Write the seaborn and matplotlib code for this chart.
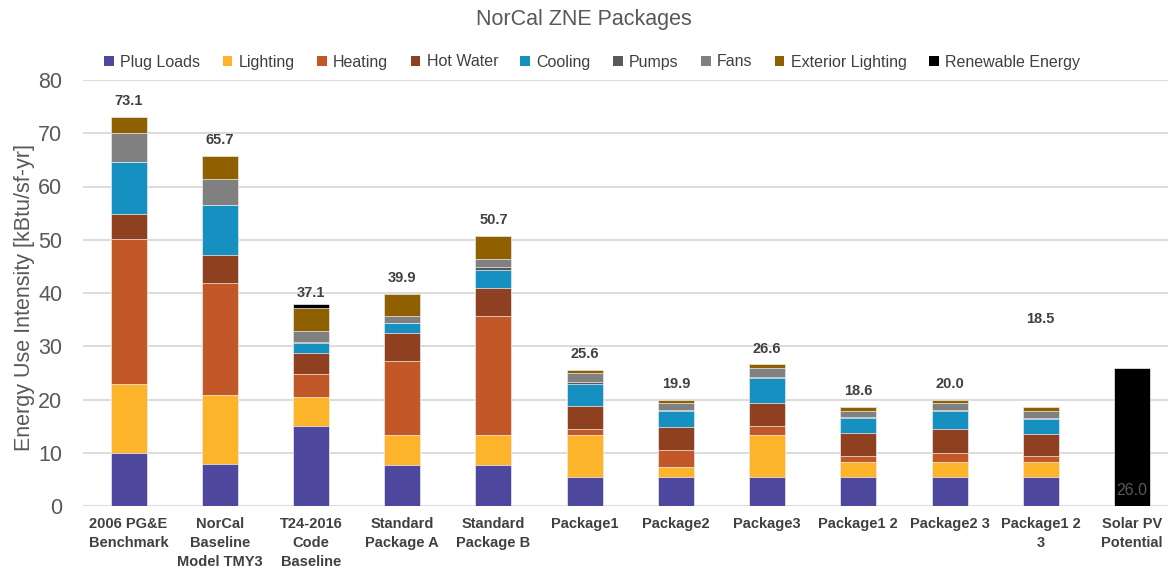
import numpy as np
import pandas as pd
import matplotlib
matplotlib.use("Agg")
import matplotlib.pyplot as plt
from matplotlib.patches import Patch
import seaborn as sns

sns.set_theme(style="white")
plt.rcParams['font.family'] = ['Liberation Sans', 'DejaVu Sans']

# ---------------- data ----------------
packages = ["2006 PG&E\nBenchmark", "NorCal\nBaseline\nModel TMY3", "T24-2016\nCode\nBaseline",
            "Standard\nPackage A", "Standard\nPackage B", "Package1", "Package2", "Package3",
            "Package1 2", "Package2 3", "Package1 2\n3", "Solar PV\nPotential"]

plug_loads   = [10.0, 7.8, 15.1, 7.7, 7.7, 5.5, 5.5, 5.5, 5.5, 5.5, 5.5, 0.0]
lighting     = [12.9, 13.1, 5.3, 5.6, 5.6, 7.8, 1.8, 7.8, 2.7, 2.7, 2.7, 0.0]
heating      = [27.2, 20.9, 4.4, 13.9, 22.4, 1.2, 3.2, 1.7, 1.2, 1.7, 1.2, 0.0]
hot_water    = [4.8, 5.4, 3.9, 5.2, 5.3, 4.3, 4.3, 4.3, 4.3, 4.5, 4.2, 0.0]
cooling      = [9.7, 9.4, 1.9, 1.9, 3.4, 4.2, 3.1, 4.7, 2.8, 3.4, 2.7, 0.0]
pumps        = [0.0, 0.0, 0.2, 0.0, 0.4, 0.2, 0.2, 0.2, 0.2, 0.2, 0.2, 0.0]
fans         = [5.5, 4.9, 2.1, 1.4, 1.6, 1.8, 1.2, 1.7, 1.2, 1.3, 1.3, 0.0]
ext_lighting = [3.0, 4.2, 4.2, 4.2, 4.3, 0.6, 0.6, 0.7, 0.7, 0.7, 0.7, 0.0]
renewable    = [0.0, 0.0, 0.9, 0.0, 0.0, 0.0, 0.0, 0.0, 0.0, 0.0, 0.0, 26.0]

series_names = ["Plug Loads", "Lighting", "Heating", "Hot Water", "Cooling",
                "Pumps", "Fans", "Exterior Lighting", "Renewable Energy"]
series_colors = ["#4E479E", "#FDB42A", "#C25828", "#8F4020", "#1690C0",
                 "#595959", "#808080", "#8F6000", "#000000"]

# extra lift of the total label above the bar (last package label floats higher)
label_lift = [2.95] * 10 + [16.6, None]

df = pd.DataFrame({"Package": packages, "Plug Loads": plug_loads, "Lighting": lighting,
                   "Heating": heating, "Hot Water": hot_water, "Cooling": cooling,
                   "Pumps": pumps, "Fans": fans, "Exterior Lighting": ext_lighting,
                   "Renewable Energy": renewable})

# ---------------- figure ----------------
fig = plt.figure(figsize=(11.68, 5.78), dpi=100)
ax = fig.add_axes([83 / 1168, 1 - 506 / 578, 1 - 83 / 1168, (506 - 80) / 578])

cum = df[series_names].cumsum(axis=1)
# draw stacked bars top-down so each lower layer covers the one above it
for name, color in zip(series_names[::-1], series_colors[::-1]):
    sns.barplot(x=df["Package"], y=cum[name], color=color, saturation=1,
                width=0.395, errorbar=None, order=packages, ax=ax,
                edgecolor="#f2f2f2", linewidth=0.5)

# total labels (non-renewable sum)
totals = df[series_names[:-1]].sum(axis=1)
for i, (tot, lift) in enumerate(zip(totals, label_lift)):
    if lift is None:
        continue
    ax.text(i, tot + lift, f"{tot:.1f}", ha="center", va="center",
            fontsize=10.5, fontweight="bold", color="#404040")

# solar potential value inside its bar
ax.text(len(packages) - 1, 3.0, f"{renewable[-1]:.1f}", ha="center", va="center",
        fontsize=11.5, color="#595959")

ax.set_xlim(-0.5, 11.395)
ax.set_ylim(0, 80)
ax.set_yticks(range(0, 81, 10))
ax.yaxis.grid(True, color="#D9D9D9", linewidth=1.3)
ax.set_axisbelow(True)
for s in ax.spines.values():
    s.set_visible(False)

ax.tick_params(axis="y", length=0, pad=15, labelsize=15.5, labelcolor="#595959")
ax.tick_params(axis="x", length=0, pad=8)
ax.set_xticks(range(len(packages)))
ax.set_xticklabels(packages, fontsize=10.5, fontweight="bold", color="#404040",
                   linespacing=1.45)
ax.set_xlabel("")
ax.set_ylabel("Energy Use Intensity [kBtu/sf-yr]", fontsize=15.5, color="#595959")
ax.yaxis.set_label_coords(-0.044, 0.49)

handles = [Patch(facecolor=c, edgecolor="none", label=n)
           for n, c in zip(series_names, series_colors)]
fig.legend(handles=handles, loc="center", bbox_to_anchor=(0.507, 1 - 62 / 578),
           ncol=9, frameon=False, fontsize=11.5, handlelength=0.6, handleheight=0.6,
           handletextpad=0.4, columnspacing=1.4, labelcolor="#404040")

fig.text(0.5, 1 - 19 / 578, "NorCal ZNE Packages", ha="center", va="center",
         fontsize=15.5, color="#595959")

fig.savefig("out.png", dpi=100)
